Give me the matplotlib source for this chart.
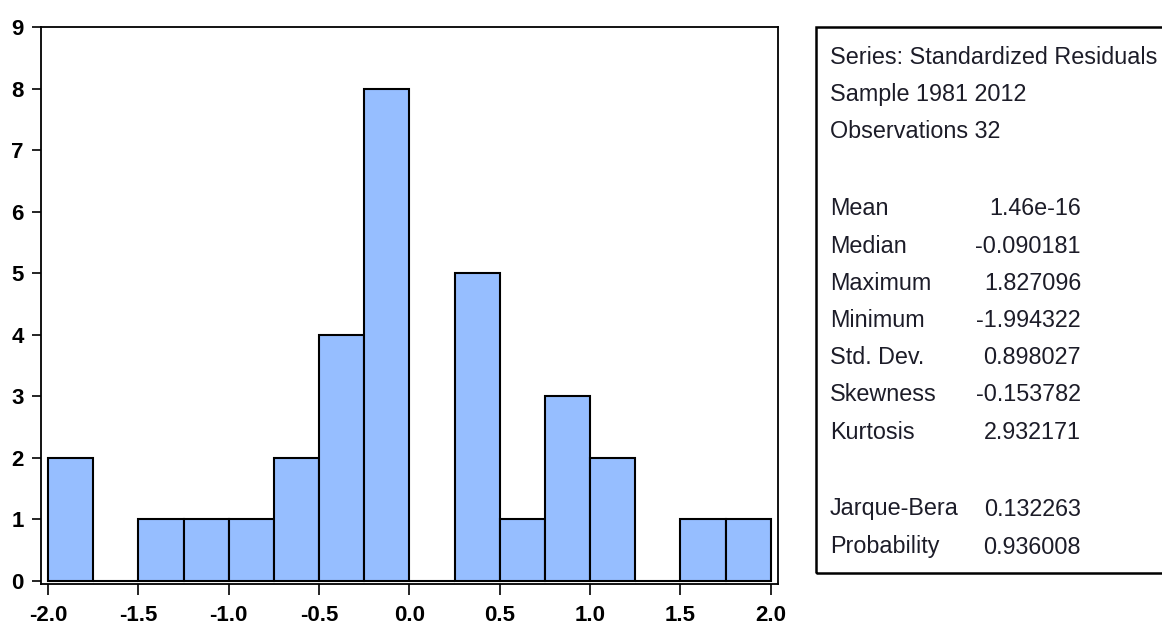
import matplotlib
matplotlib.use("Agg")
import matplotlib.pyplot as plt
from matplotlib.patches import Rectangle

# Data
bin_edges = [-2.0, -1.75, -1.5, -1.25, -1.0, -0.75, -0.5, -0.25, 0.0,
             0.25, 0.5, 0.75, 1.0, 1.25, 1.5, 1.75, 2.0]
counts = [2, 0, 1, 1, 1, 2, 4, 8, 0, 5, 1, 3, 2, 0, 1, 1]
x_ticks = [-2.0, -1.5, -1.0, -0.5, 0.0, 0.5, 1.0, 1.5, 2.0]
y_ticks = list(range(0, 10))

header_lines = ["Series: Standardized Residuals", "Sample 1981 2012", "Observations 32"]
stat_labels = ["Mean", "Median", "Maximum", "Minimum", "Std. Dev.", "Skewness", "Kurtosis"]
stat_values = ["1.46e-16", "-0.090181", "1.827096", "-1.994322", "0.898027", "-0.153782", "2.932171"]
test_labels = ["Jarque-Bera", "Probability"]
test_values = ["0.132263", "0.936008"]

font = 'Liberation Sans'

W, H = 1162, 624
fig = plt.figure(figsize=(W / 100, H / 100), dpi=100)
ax = fig.add_axes([41 / W, 1 - 584 / H, (778 - 41) / W, (584 - 27) / H])

widths = [bin_edges[i + 1] - bin_edges[i] for i in range(len(counts))]
ax.bar(bin_edges[:-1], counts, width=widths, align='edge',
       color='#96BEFF', edgecolor='black', linewidth=1.5)

ax.set_xlim(-2.039, 2.04)
ax.set_ylim(-0.05, 9)
ax.set_xticks(x_ticks)
ax.set_xticklabels([f"{v:.1f}" for v in x_ticks])
ax.set_yticks(y_ticks)
ax.set_yticklabels([str(v) for v in y_ticks])
ax.tick_params(axis='x', direction='out', length=8, width=1.2, pad=7)
ax.tick_params(axis='y', direction='out', length=6.5, width=1.2, pad=6)
for lab in ax.get_xticklabels() + ax.get_yticklabels():
    lab.set_fontfamily(font)
    lab.set_fontweight('bold')
    lab.set_fontsize(16)
for sp in ax.spines.values():
    sp.set_linewidth(1.3)

# Stats box
box = Rectangle((816 / W, 1 - 573 / H), (1200 - 816) / W, (573 - 27) / H,
                transform=fig.transFigure, fill=False, edgecolor='black',
                linewidth=1.8, clip_on=False)
fig.patches.append(box)

tx = 830 / W
vx = 1081 / W
fs = 16.8
col = '#1c1c28'
y = 57
for line in header_lines:
    fig.text(tx, 1 - y / H, line, fontfamily=font, fontsize=fs, va='center', color=col)
    y += 37
y = 209
for lab, val in zip(stat_labels, stat_values):
    fig.text(tx, 1 - y / H, lab, fontfamily=font, fontsize=fs, va='center', color=col)
    fig.text(vx, 1 - y / H, val, fontfamily=font, fontsize=fs, va='center', ha='right', color=col)
    y += 37.2
y = 509
for lab, val in zip(test_labels, test_values):
    fig.text(tx, 1 - y / H, lab, fontfamily=font, fontsize=fs, va='center', color=col)
    fig.text(vx, 1 - y / H, val, fontfamily=font, fontsize=fs, va='center', ha='right', color=col)
    y += 38

fig.savefig("out.png", dpi=100)
